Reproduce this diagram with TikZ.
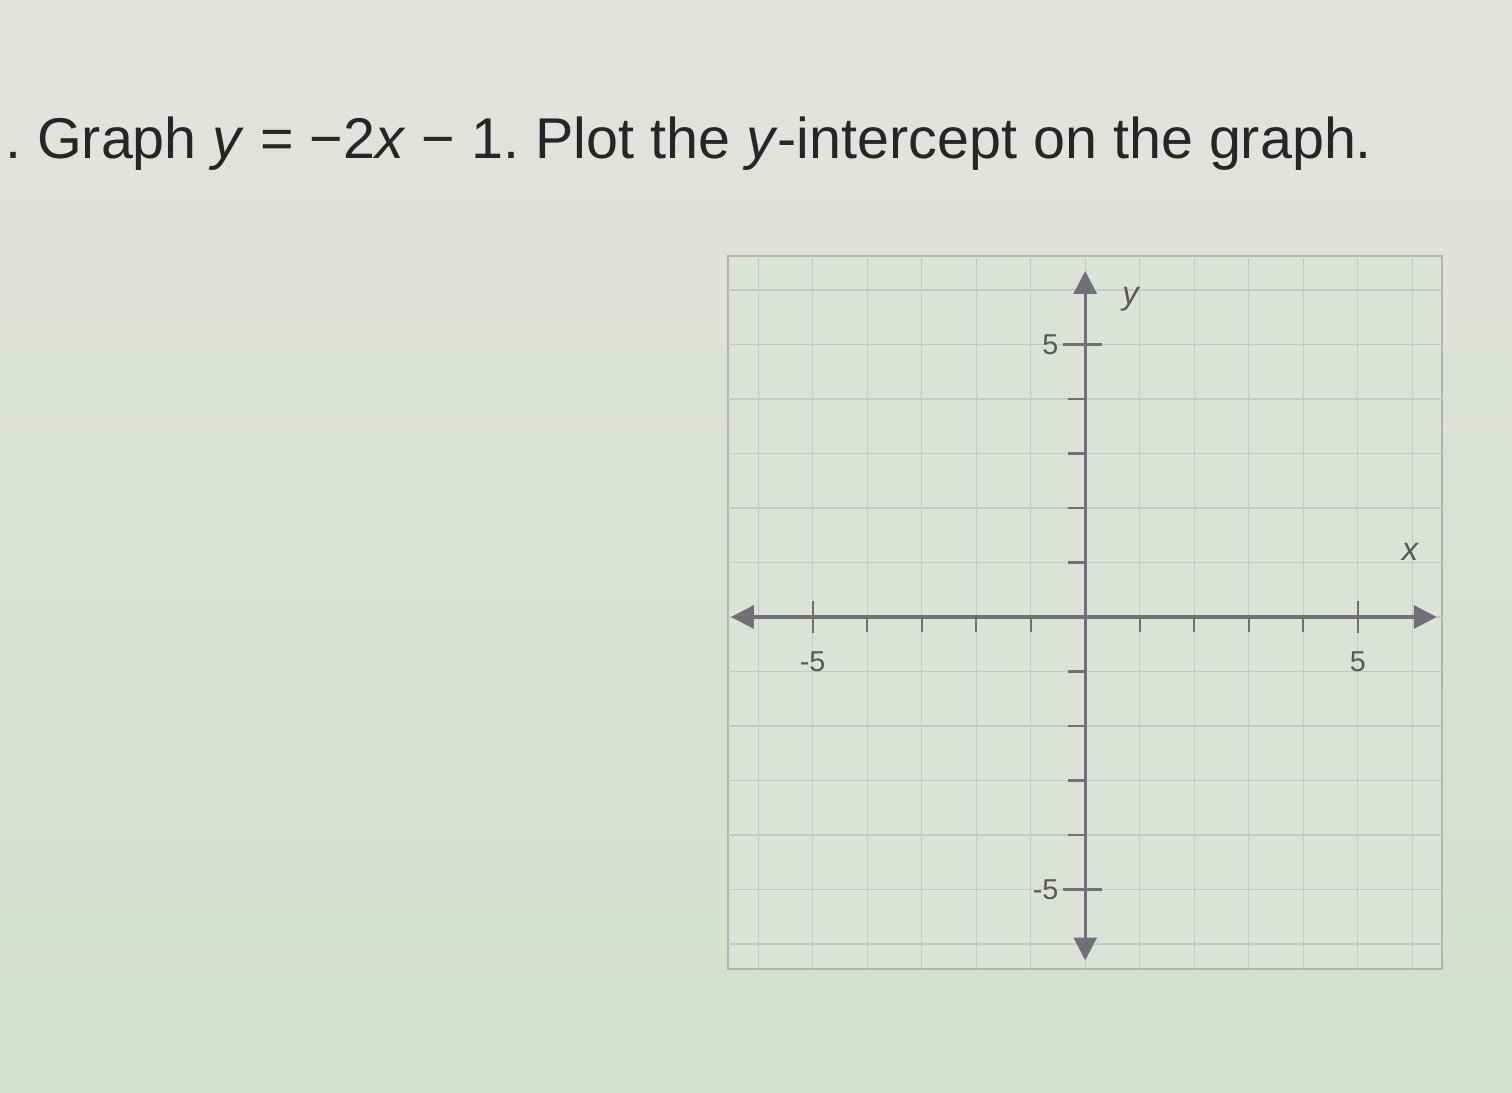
\documentclass[tikz,border=0pt]{standalone}
\usepackage{fontspec}
\setmainfont{Liberation Sans}
\usetikzlibrary{arrows.meta, positioning}

\definecolor{papertop}{RGB}{226,227,223}
\definecolor{paperbottom}{RGB}{212,223,204}
\definecolor{graphfill}{RGB}{220,226,215}
\definecolor{framegray}{RGB}{178,180,178}
\definecolor{gridgray}{RGB}{198,202,198}
\definecolor{axisgray}{RGB}{112,112,118}
\definecolor{labelgray}{RGB}{88,88,92}
\definecolor{titleink}{RGB}{38,38,40}

\begin{document}
\frenchspacing
\begin{tikzpicture}[
    gridline/.style={draw=gridgray, line width=0.6pt},
    axisline/.style={draw=axisgray, line width=1.6pt,
        {Triangle[length=0.42cm, width=0.42cm]}-{Triangle[length=0.42cm, width=0.42cm]}},
    tickline/.style={draw=axisgray, line width=1.2pt},
    ticklabel/.style={text=labelgray, font=\fontsize{15}{17}\selectfont, inner sep=1pt},
    axislabel/.style={text=labelgray, font=\fontsize{17}{19}\selectfont\itshape, inner sep=1pt}
]
    % Page and its margins
    \shade[top color=papertop, bottom color=paperbottom] (-19.91,-8.72) rectangle (7.83,11.32);
    \useasboundingbox (-19.91,-8.72) rectangle (7.83,11.32);

    % Question text
    \node[anchor=base west, text=titleink, font=\fontsize{30}{36}\selectfont, inner sep=0pt]
        (question) at (-19.82,8.42)
        {. Graph \textit{y} = −2\textit{x} − 1. Plot the \textit{y}-intercept on the graph.};

    % Frame and grid
    \filldraw[draw=framegray, fill=graphfill, line width=1pt] (-6.55,-6.45) rectangle (6.55,6.62);
    \foreach \k in {-6,...,6} {
        \draw[gridline] (\k,-6.45) -- (\k,6.62);
        \draw[gridline] (-6.55,\k) -- (6.55,\k);
    }

    % Axes
    \coordinate (xleft) at (-6.5,0);
    \coordinate (xright) at (6.45,0);
    \coordinate (ybottom) at (0,-6.3);
    \coordinate (ytop) at (0,6.35);
    \draw[axisline] (xleft) -- (xright);
    \draw[axisline] (ybottom) -- (ytop);

    % Ticks
    \foreach \k in {-4,...,-1,1,2,...,4} {
        \draw[tickline] (\k,0) -- (\k,-0.28);
        \draw[tickline] (0,\k) -- (-0.32,\k);
    }
    \foreach \k in {-5,5} {
        \draw[tickline] (\k,0.3) -- (\k,-0.3);
        \draw[tickline] (-0.4,\k) -- (0.3,\k);
    }

    % Tick labels
    \node[ticklabel, anchor=north] (xminus) at (-5,-0.6) {-5};
    \node[ticklabel, anchor=north] (xplus) at (5,-0.6) {5};
    \node[ticklabel, anchor=east] (yplus) at (-0.45,5) {5};
    \node[ticklabel, anchor=east] (yminus) at (-0.45,-5) {-5};

    % Axis names
    \node[axislabel] (ylabel) at (0.83,5.82) {y};
    \node[axislabel] (xlabel) at (5.96,1.19) {x};
\end{tikzpicture}
\end{document}
